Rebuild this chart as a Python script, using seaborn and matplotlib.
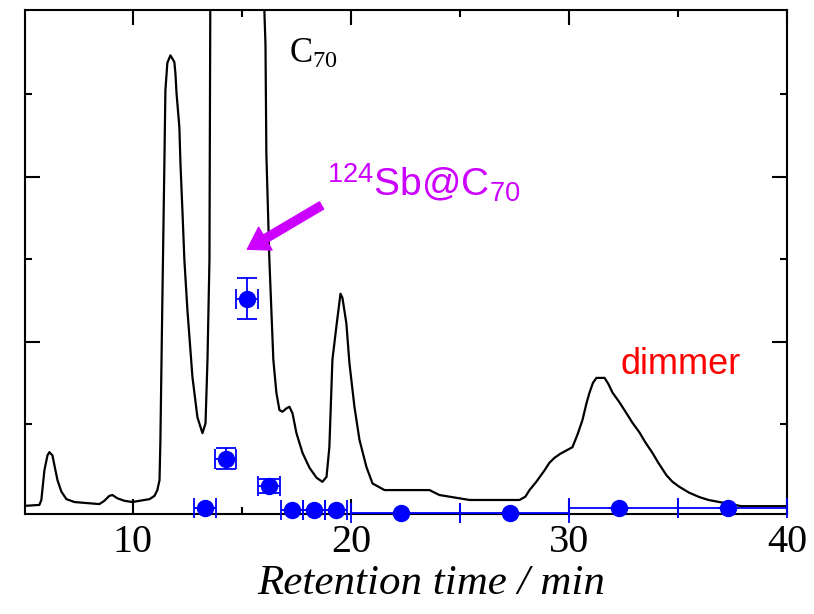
import numpy as np
import pandas as pd
import matplotlib
matplotlib.use("Agg")
import matplotlib.pyplot as plt
from matplotlib.ticker import FixedLocator
import seaborn as sns

# ---- chromatogram trace (retention time / min, detector response a.u.) ----
trace_time = [5.11, 5.71, 5.80, 5.94, 6.08, 6.17, 6.31, 6.40, 6.54, 6.72, 6.95, 7.32,
              8.00, 8.46, 8.69, 8.92, 9.06, 9.29, 9.61, 9.98, 10.30, 10.76, 10.99,
              11.12, 11.22, 11.26, 11.35, 11.44, 11.49, 11.58, 11.72, 11.90, 11.95,
              12.00, 12.13, 12.18, 12.27, 12.36, 12.50, 12.73, 12.96, 13.19, 13.33,
              13.42, 13.51, 13.56, 13.70, 14.50, 15.50, 15.95, 16.03, 16.08, 16.12,
              16.26, 16.35, 16.44, 16.58, 16.72, 16.86, 17.04, 17.18, 17.32, 17.50,
              17.78, 18.10, 18.42, 18.69, 18.88, 19.01, 19.15, 19.33, 19.52, 19.61,
              19.79, 19.93, 20.16, 20.39, 20.71, 20.99, 21.54, 23.60, 24.06, 24.98,
              25.44, 27.73, 28.00, 28.19, 28.50, 28.88, 29.10, 29.33, 29.60, 29.88,
              30.16, 30.40, 30.62, 30.80, 30.94, 31.10, 31.26, 31.63, 31.80, 32.00,
              32.30, 32.64, 32.90, 33.23, 33.50, 33.83, 34.10, 34.47, 34.75, 35.06,
              35.50, 35.98, 36.40, 36.90, 37.90, 40.00]
trace_signal = [0.01, 0.02, 0.08, 0.44, 0.62, 0.66, 0.62, 0.50, 0.32, 0.18, 0.09, 0.055,
                0.04, 0.03, 0.07, 0.13, 0.14, 0.10, 0.07, 0.055, 0.07, 0.09, 0.13,
                0.20, 0.32, 0.80, 2.50, 4.11, 5.05, 5.38, 5.47, 5.39, 5.25,
                5.01, 4.60, 4.16, 3.59, 2.99, 2.38, 1.57, 1.08, 0.89, 1.01,
                1.78, 2.99, 7.00, 9.00, 10.5, 10.0, 7.50, 6.00, 5.60, 4.28,
                2.98, 2.38, 1.78, 1.38, 1.17, 1.15, 1.19, 1.21, 1.13, 0.89,
                0.65, 0.47, 0.35, 0.30, 0.36, 0.72, 1.78, 2.18, 2.58, 2.53,
                2.22, 1.74, 1.21, 0.81, 0.48, 0.28, 0.20, 0.20, 0.14, 0.10,
                0.08, 0.08, 0.12, 0.20, 0.30, 0.44, 0.53, 0.59, 0.64, 0.68,
                0.72, 0.88, 1.05, 1.25, 1.38, 1.50, 1.56, 1.56, 1.49, 1.38,
                1.27, 1.13, 1.02, 0.90, 0.78, 0.65, 0.53, 0.38, 0.30, 0.24,
                0.17, 0.115, 0.08, 0.055, 0.005, 0.005]

# ---- 124Sb radioactivity of collected fractions ----
frac_time = [13.3, 14.25, 15.25, 16.25, 17.3, 18.3, 19.3, 22.3, 27.3, 32.3, 37.3]
frac_lo = [12.8, 13.75, 14.75, 15.75, 16.8, 17.8, 18.8, 20.0, 25.0, 30.0, 35.0]
frac_hi = [13.8, 14.75, 15.75, 16.75, 17.8, 18.8, 19.8, 25.0, 30.0, 35.0, 40.0]
frac_activity = [-0.02, 0.58, 2.52, 0.25, -0.04, -0.04, -0.04, -0.08, -0.08, -0.02, -0.02]
frac_err = [0.0, 0.13, 0.25, 0.085, 0.0, 0.0, 0.0, 0.0, 0.0, 0.0, 0.0]

x_ticks_major = [10, 20, 30, 40]
x_ticks_minor = [15, 25, 35]
x_tick_labels = ["10", "20", "30", "40"]

sns.set_style("ticks")
plt.rcParams["font.family"] = ["Liberation Serif", "DejaVu Serif"]
plt.rcParams["mathtext.fontset"] = "custom"
plt.rcParams["mathtext.rm"] = "Liberation Serif"
plt.rcParams["mathtext.it"] = "Liberation Serif:italic"
plt.rcParams["mathtext.sf"] = "Liberation Sans"
plt.rcParams["text.color"] = "black"
plt.rcParams["axes.labelcolor"] = "black"
plt.rcParams["xtick.color"] = "black"
plt.rcParams["ytick.color"] = "black"

fig = plt.figure(figsize=(8.14, 6.14), dpi=100)
ax = fig.add_axes([25 / 814, 100 / 614, 762 / 814, 504 / 614])

df = pd.DataFrame({"time": trace_time, "signal": trace_signal})
sns.lineplot(data=df, x="time", y="signal", ax=ax, color="black", lw=1.6,
             sort=False, estimator=None)

ft = np.array(frac_time)
xerr = np.array([ft - np.array(frac_lo), np.array(frac_hi) - ft])
ax.errorbar(frac_time, frac_activity, xerr=xerr, yerr=frac_err, fmt="o",
            color="#0000ff", ms=11.5, lw=1.3, capsize=7, capthick=1.3,
            elinewidth=1.3, zorder=5, clip_on=False)

ax.set_xlim(5.05, 40)
ax.set_ylim(-0.09, 6.02)

ax.xaxis.set_major_locator(FixedLocator(x_ticks_major))
ax.xaxis.set_minor_locator(FixedLocator(x_ticks_minor))
ax.set_xticklabels(x_tick_labels)
ax.yaxis.set_major_locator(FixedLocator([2, 4]))
ax.yaxis.set_minor_locator(FixedLocator([1, 3, 5]))
ax.set_yticklabels([])
ax.tick_params(which="both", direction="in", top=True, right=True,
               color="black", labelcolor="black", width=1.5)
ax.tick_params(which="major", length=11, labelsize=29, pad=7)
ax.tick_params(which="minor", length=5)
for s in ax.spines.values():
    s.set_visible(True)
    s.set_linewidth(1.5)
    s.set_color("black")

ax.set_ylabel("")
ax.set_xlabel("Retention time / min", fontsize=31, style="italic", color="black")
ax.xaxis.set_label_coords(0.533, -0.10)

ax.text(17.18, 5.38, r"$\mathrm{C}_{70}$", fontsize=25, color="black")
magenta = "#cc00ff"
ax.text(18.88, 3.78, r"$^{\mathsf{124}}\mathsf{Sb@C}_{\mathsf{70}}$",
        fontsize=28, color=magenta)
ax.annotate("", xy=(15.25, 3.12), xytext=(18.65, 3.65),
            arrowprops=dict(facecolor=magenta, edgecolor=magenta, width=6,
                            headwidth=19, headlength=15, shrink=0))
ax.text(32.36, 1.61, "dimmer", fontsize=26, color="red",
        family=["Liberation Sans", "DejaVu Sans"])

fig.savefig("out.png", dpi=100)
